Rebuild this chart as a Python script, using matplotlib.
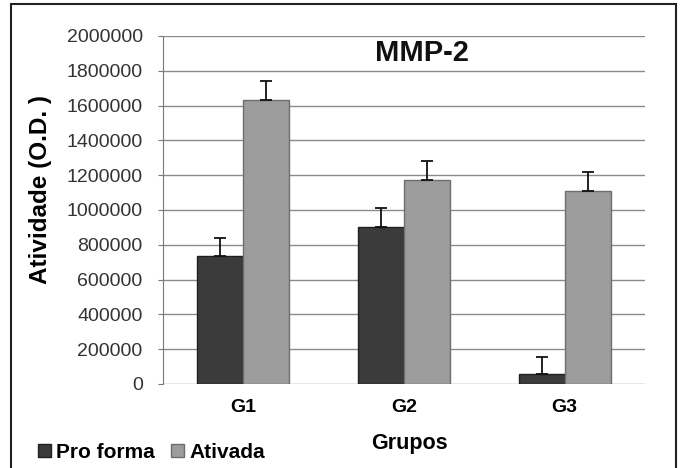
import matplotlib.pyplot as plt
import numpy as np
from matplotlib.patches import Rectangle, Patch

plt.rcParams['font.family'] = ['Liberation Sans', 'DejaVu Sans']

# data
grupos = ["G1", "G2", "G3"]
pro_forma = [735000, 905000, 55000]
pro_forma_err = [105000, 105000, 100000]
ativada = [1630000, 1170000, 1110000]
ativada_err = [110000, 110000, 110000]
yticks = np.arange(0, 2000001, 200000)

fig = plt.figure(figsize=(6.81, 4.68), dpi=100)
ax = fig.add_axes([163/681, 1-384/468, (645-163)/681, (384-36)/468])

x = np.arange(len(grupos))
w = 0.286
ekw = dict(ecolor='#111111', capsize=4.3, elinewidth=1.3, capthick=1.3)
ax.bar(x - w/2, pro_forma, w, color='#3b3b3b', edgecolor='#202020', linewidth=1.0,
       yerr=[np.zeros(3), pro_forma_err], error_kw=ekw, zorder=3, label='Pro forma')
ax.bar(x + w/2, ativada, w, color='#9c9c9c', edgecolor='#6e6e6e', linewidth=1.0,
       yerr=[np.zeros(3), ativada_err], error_kw=ekw, zorder=3, label='Ativada')

ax.set_xlim(-0.5, 2.5)
ax.set_ylim(0, 2000000)
ax.set_yticks(yticks)
ax.set_yticklabels([str(v) for v in yticks], fontsize=14, color='#333333')
ax.yaxis.grid(True, color='#8a8a8a', linewidth=1.0, zorder=0)
ax.set_xticks(x)
ax.set_xticklabels(grupos, fontsize=14, fontweight='bold')
ax.tick_params(axis='x', length=0, pad=11)
ax.tick_params(axis='y', length=3.6, color='#777777', pad=11)
for s in ['top', 'right', 'bottom']:
    ax.spines[s].set_visible(False)
ax.spines['left'].set_color('#777777')

ax.text(1.11, 1900000, 'MMP-2', fontsize=21, fontweight='bold', ha='center', va='center', color='#111111')
fig.text(41/681, 1-190/468, 'Atividade (O.D. )', rotation=90, fontsize=17.5, fontweight='bold',
         ha='center', va='center')
fig.text(409/681, 1-444/468, 'Grupos', fontsize=15.5, fontweight='bold', ha='center', va='center')

handles = [Patch(facecolor='#3b3b3b', edgecolor='#202020'),
           Patch(facecolor='#9c9c9c', edgecolor='#6e6e6e')]
fig.legend(handles, ['Pro forma', 'Ativada'], loc='center left', bbox_to_anchor=(32/681, 1-452/468),
           ncol=2, frameon=False, handlelength=0.6, handleheight=0.6, handletextpad=0.25,
           columnspacing=0.8, borderaxespad=0, borderpad=0.3, prop=dict(size=15, weight='bold'))

fig.patches.append(Rectangle((11/681, -0.05), (676-11)/681, 1.05 - 4/468, transform=fig.transFigure,
                             fill=False, edgecolor='#222222', linewidth=1.5))

fig.savefig('out.png', dpi=100)
